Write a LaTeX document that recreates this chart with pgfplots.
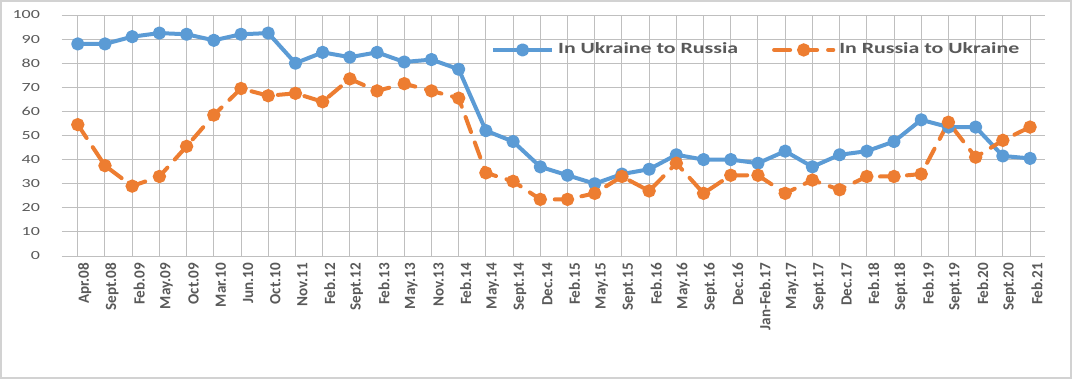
\documentclass[border=0pt]{standalone}
\usepackage{fontspec}
\usepackage{pgfplots}
\pgfplotsset{compat=1.18}
\setmainfont{Carlito}
\newfontfamily\xlab[FakeStretch=0.97]{Carlito}
\newfontfamily\ylab[FakeStretch=1.45]{Carlito}
\newfontfamily\legfont[FakeStretch=1.4]{Carlito}
\definecolor{cblue}{HTML}{5B9BD5}
\definecolor{corange}{HTML}{ED7D31}
\definecolor{txt}{HTML}{595959}
\definecolor{grid}{HTML}{D9D9D9}
\begin{document}
\begin{tikzpicture}
\useasboundingbox (-31pt,-65pt) rectangle (509pt,128pt);
\fill[white] (-31pt,-65pt) rectangle (509pt,128pt);
\draw[gray!35, line width=0.6pt] (-30.5pt,-61pt) rectangle (504.5pt,127.5pt);
\begin{axis}[
  scale only axis,
  width=491.5pt, height=120.5pt,
  xmin=-0.58, xmax=35.55, ymin=0, ymax=100,
  axis line style={draw=none},
  ymajorgrids, grid style={grid, line width=0.5pt},
  ytick={0,10,...,100},
  xtick={0,...,35},
  xticklabels={Apr.08,Sept.08,Feb.09,May.09,Oct.09,Mar.10,Jun.10,Oct.10,Nov.11,Feb.12,Sept.12,Feb.13,May.13,Nov.13,Feb.14,May.14,Sept.14,Dec.14,Feb.15,May.15,Sept.15,Feb.16,May.16,Sept.16,Dec.16,Jan-Feb.17,May.17,Sept.17,Dec.17,Feb.18,Sept.18,Feb.19,Sept.19,Feb.20,Sept.20,Feb.21},
  major tick length=0pt,
  tick style={draw=none},
  xticklabel style={rotate=90, anchor=east, font=\xlab\bfseries\fontsize{7.8}{9}\selectfont, text=txt, yshift=-3.5pt},
  yticklabel style={anchor=east, font=\ylab\fontsize{6.2}{7}\selectfont, text=txt, xshift=-7.5pt},
  /pgf/number format/assume math mode=true,
  legend style={at={(0.436,0.855)}, anchor=west, draw=none, fill=none, inner sep=0pt,
    font=\legfont\bfseries\fontsize{7.8}{9}\selectfont, text=txt},
  legend columns=2,
  /tikz/every even column/.append style={column sep=15pt},
  legend image code/.code={\draw[mark repeat=2,mark phase=2] plot coordinates {(0cm,0cm)(0.52cm,0cm)(1.04cm,0cm)};},
]
\addplot[cblue, line width=2pt, mark=*, mark size=2.3pt, line join=round] coordinates {
(0,88)(1,88)(2,91)(3,92.5)(4,92)(5,89.5)(6,92)(7,92.5)(8,80)(9,84.5)(10,82.5)(11,84.5)(12,80.5)(13,81.5)(14,77.5)(15,52)(16,47.5)(17,37)(18,33.5)(19,30)(20,34)(21,36)(22,42)(23,40)(24,40)(25,38.5)(26,43.5)(27,37)(28,42)(29,43.5)(30,47.5)(31,56.5)(32,53.5)(33,53.5)(34,41.5)(35,40.5)};
\addlegendentry{In Ukraine to Russia}
\addplot[corange, line width=2pt, mark=*, mark size=2.3pt, line cap=round, dash pattern=on 8pt off 5.5pt, mark options={solid}] coordinates {
(0,54.5)(1,37.5)(2,29)(3,33)(4,45.5)(5,58.5)(6,69.5)(7,66.5)(8,67.5)(9,64)(10,73.5)(11,68.5)(12,71.5)(13,68.5)(14,65.5)(15,34.5)(16,31)(17,23.5)(18,23.5)(19,26)(20,33)(21,27)(22,38.5)(23,26)(24,33.5)(25,33.5)(26,26)(27,31.5)(28,27.5)(29,33)(30,33)(31,34)(32,55.5)(33,41)(34,48)(35,53.5)};
\addlegendentry{In Russia to Ukraine}
\end{axis}
\end{tikzpicture}
\end{document}
